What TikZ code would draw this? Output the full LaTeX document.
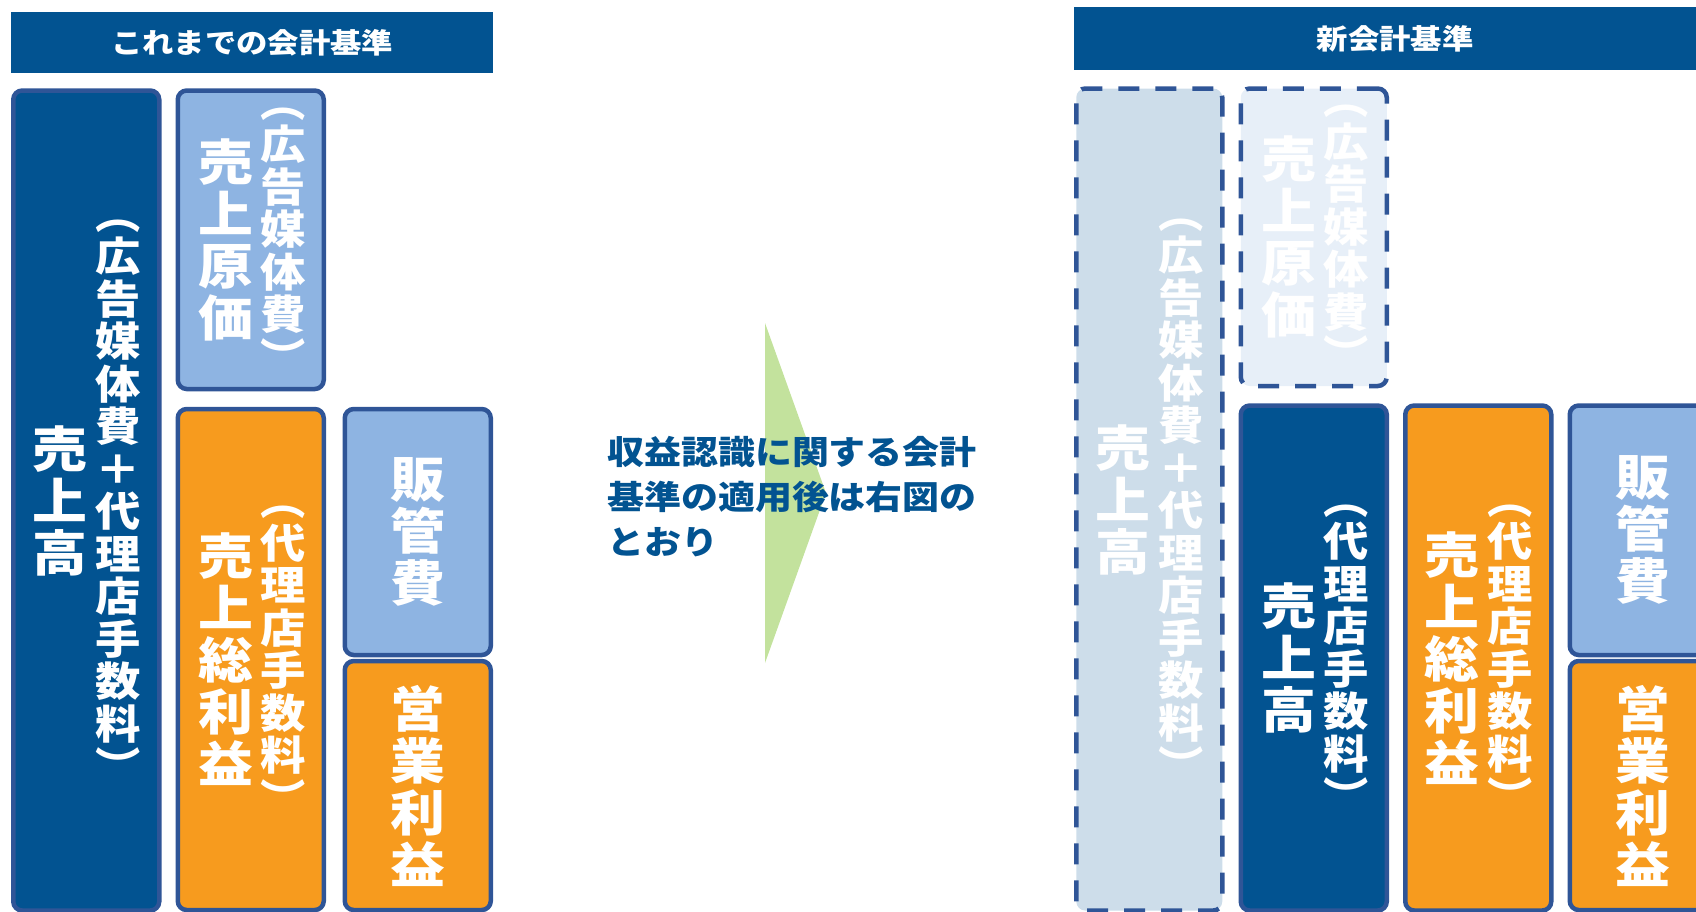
\documentclass[tikz,border=0pt]{standalone}
\usepackage{fontspec}
\setmainfont{Noto Sans CJK JP}[FakeStretch=1.12]
\usepackage{tikz}
\usetikzlibrary{positioning}
\definecolor{navy}{RGB}{2,83,145}
\definecolor{rim}{RGB}{47,85,151}
\definecolor{skyblue}{RGB}{142,180,226}
\definecolor{amber}{RGB}{247,155,30}
\definecolor{paleblue}{RGB}{205,221,234}
\definecolor{mistblue}{RGB}{231,239,248}
\definecolor{leaf}{RGB}{195,226,157}
\tikzstyle{head} = [rectangle, fill=navy, anchor=north west, minimum height=61pt, inner sep=0pt, text=white, font=\bfseries\fontsize{28}{28}\selectfont]
\tikzstyle{box} = [rectangle, draw=rim, line width=4.5pt, rounded corners=9pt, minimum width=146pt, inner sep=0pt, outer sep=0pt]
\tikzstyle{ghost} = [box, dash pattern=on 21pt off 16pt]
\tikzstyle{big} = [text=white, align=center, inner sep=0pt, font=\bfseries\fontsize{49}{52}\selectfont]
\tikzstyle{small} = [text=white, align=center, inner sep=0pt, font=\bfseries\fontsize{40.5}{42.5}\selectfont]
\tikzstyle{note} = [text=navy, align=left, inner sep=0pt, anchor=west, font=\bfseries\fontsize{33}{45}\selectfont]

\begin{document}
\begin{tikzpicture}[x=1pt, y=-1pt]
	\useasboundingbox (0,0) rectangle (1696,911);
	\clip (0,0) rectangle (1696,911);
	
	% before
	\node [head, minimum width=482pt] (head1) at (11,12) {これまでの会計基準};
	
	\node [box, fill=navy, minimum height=820pt, anchor=north west] (sales1) at (13.25,90.5) {};
	\node [box, fill=skyblue, minimum height=298.5pt, right=18.5pt of sales1.north east, anchor=north west] (cost1) {};
	\node [box, fill=amber, minimum height=501pt, below=20pt of cost1.south west, anchor=north west] (gross1) {};
	\node [box, fill=skyblue, minimum height=246pt, right=21pt of gross1.north east, anchor=north west] (sga1) {};
	\node [box, fill=amber, minimum height=249pt, below=6pt of sga1.south west, anchor=north west] (op1) {};
	
	\node [big, xshift=-26pt] (sales1a) at (sales1.center) {売\\上\\高};
	\node [small, xshift=32pt] (sales1b) at (sales1.center) {︵\\広\\告\\媒\\体\\費\\＋\\代\\理\\店\\手\\数\\料\\︶};
	\node [big, xshift=-25pt] (cost1a) at (cost1.center) {売\\上\\原\\価};
	\node [small, xshift=32pt] (cost1b) at (cost1.center) {︵\\広\\告\\媒\\体\\費\\︶};
	\node [big, xshift=-25pt] (gross1a) at (gross1.center) {売\\上\\総\\利\\益};
	\node [small, xshift=32pt] (gross1b) at (gross1.center) {︵\\代\\理\\店\\手\\数\\料\\︶};
	\node [big] (sga1a) at (sga1.center) {販\\管\\費};
	\node [big] (op1a) at (op1.center) {営\\業\\利\\益};
	
	% arrow
	\fill [leaf] (765,323) -- (826,493) -- (765,663) -- cycle;
	\node [note] (memo) at (607,497) {収益認識に関する会計\\基準の適用後は右図の\\とおり};
	
	% after
	\node [head, minimum width=642pt, minimum height=63pt] (head2) at (1074,7) {新会計基準};
	
	\node [ghost, fill=paleblue, minimum height=822pt, anchor=north west] (sales2) at (1076.25,88.5) {};
	\node [ghost, fill=mistblue, minimum height=297.5pt, right=18.5pt of sales2.north east, anchor=north west] (cost2) {};
	\node [box, fill=navy, minimum height=505pt, below=19.5pt of cost2.south west, anchor=north west] (net2) {};
	\node [box, fill=amber, minimum height=505pt, right=18.5pt of net2.north east, anchor=north west] (gross2) {};
	\node [box, fill=skyblue, minimum height=249.5pt, right=18.5pt of gross2.north east, anchor=north west] (sga2) {};
	\node [box, fill=amber, minimum height=249pt, below=6pt of sga2.south west, anchor=north west] (op2) {};
	
	\node [big, xshift=-26pt] (sales2a) at (sales2.center) {売\\上\\高};
	\node [small, xshift=32pt] (sales2b) at (sales2.center) {︵\\広\\告\\媒\\体\\費\\＋\\代\\理\\店\\手\\数\\料\\︶};
	\node [big, xshift=-25pt] (cost2a) at (cost2.center) {売\\上\\原\\価};
	\node [small, xshift=32pt] (cost2b) at (cost2.center) {︵\\広\\告\\媒\\体\\費\\︶};
	\node [big, xshift=-25pt] (net2a) at (net2.center) {売\\上\\高};
	\node [small, xshift=32pt] (net2b) at (net2.center) {︵\\代\\理\\店\\手\\数\\料\\︶};
	\node [big, xshift=-26pt] (gross2a) at (gross2.center) {売\\上\\総\\利\\益};
	\node [small, xshift=32pt] (gross2b) at (gross2.center) {︵\\代\\理\\店\\手\\数\\料\\︶};
	\node [big] (sga2a) at (sga2.center) {販\\管\\費};
	\node [big] (op2a) at (op2.center) {営\\業\\利\\益};
	
\end{tikzpicture}
\end{document}
